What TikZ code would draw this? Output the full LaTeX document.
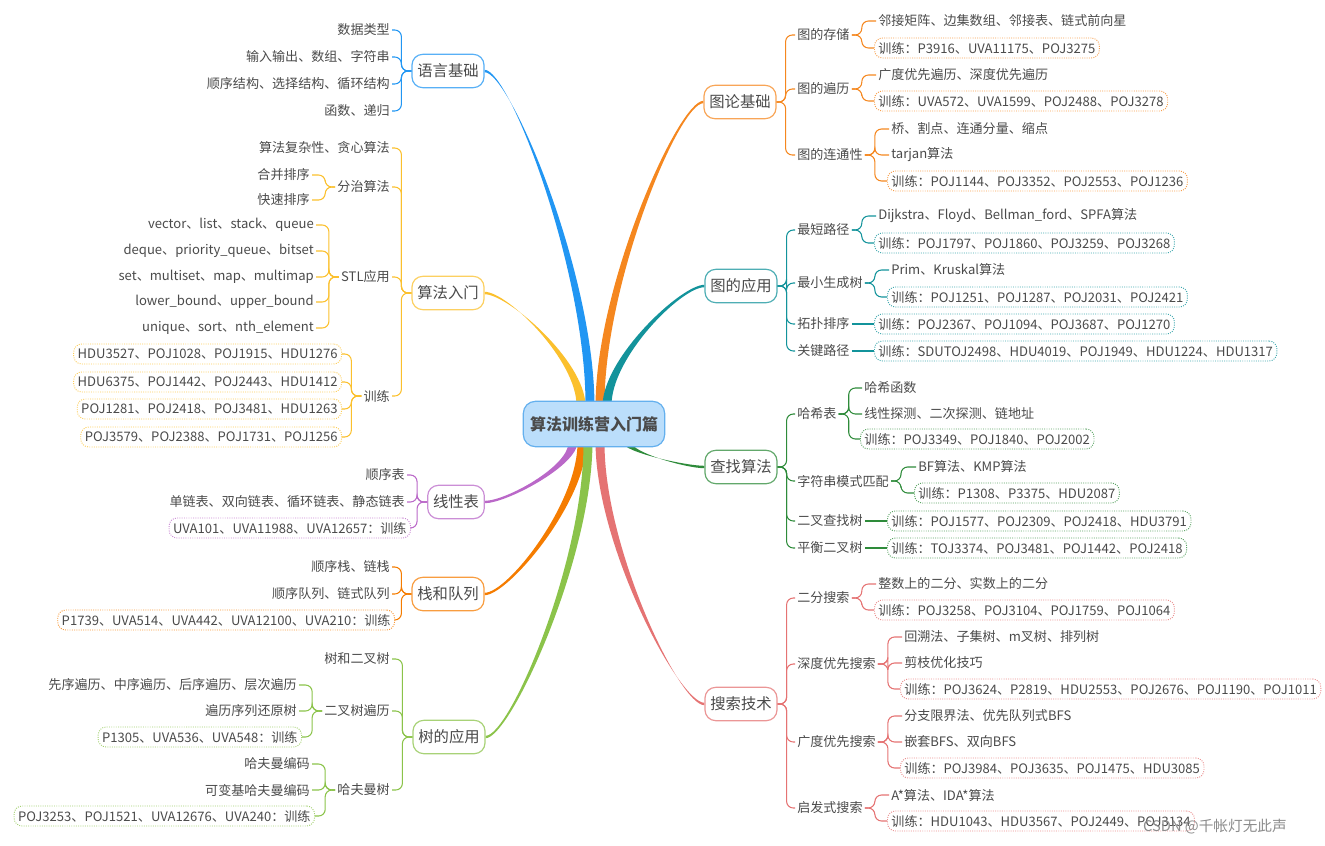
\documentclass[tikz,border=0pt]{standalone}
\usepackage{fontspec}
\setmainfont{Noto Sans CJK SC}
\usetikzlibrary{calc,backgrounds}
\definecolor{txt}{HTML}{4A4A4A}
\definecolor{cblue}{HTML}{2196F3}
\definecolor{cyel}{HTML}{FBC02D}
\definecolor{cpur}{HTML}{BA68C8}
\definecolor{corg}{HTML}{F57C00}
\definecolor{clgr}{HTML}{8BC34A}
\definecolor{cor2}{HTML}{F5871F}
\definecolor{cteal}{HTML}{13939B}
\definecolor{cdgr}{HTML}{2E8B3A}
\definecolor{cpink}{HTML}{E57373}
\definecolor{rootfill}{HTML}{BBDEFB}
\definecolor{rootline}{HTML}{64B0EE}
\newcommand\mbranch[3]{%
  \fill[#1] ($(#2)+(-4.5,0)$) .. controls ($(#2)!0.4!(#2|-#3)+(-4,0)$) and ($(#3)!0.24!(#3-|#2)+(0,-1.2)$) .. ($(#3)+(0,-1.2)$)
  -- ($(#3)+(0,1.2)$) .. controls ($(#3)!0.24!(#3-|#2)+(0,1.2)$) and ($(#2)!0.4!(#2|-#3)+(4,0)$) .. ($(#2)+(4.5,0)$) -- cycle;}
\begin{document}
\begin{tikzpicture}[x=0.75pt,y=-0.75pt,
  root/.style={draw=rootline,fill=rootfill,line width=0.9pt,rounded corners=9pt,minimum width=106pt,minimum height=34pt,text=txt,font=\fontsize{12}{14}\selectfont\bfseries},
  topic/.style={draw=#1!75,fill=white,line width=0.9pt,rounded corners=8pt,minimum height=25pt,inner xsep=4pt,text=txt,font=\fontsize{11.5}{14}\selectfont},
  leaf/.style={inner sep=1.5pt,text=txt,font=\fontsize{9.8}{12}\selectfont},
  lleaf/.style={leaf,anchor=east},
  rleaf/.style={leaf,anchor=west},
  train/.style={leaf,draw=#1!80,densely dotted,line width=0.7pt,rounded corners=6pt,inner xsep=3pt,minimum height=15pt},
  conn/.style={draw=#1,line width=0.8pt,rounded corners=5pt}]
\useasboundingbox (0,0) rectangle (1325,846);
\node[root] (root) at (594,424) {算法训练营入门篇};

\node[topic=cblue] (lang) at (448,71) {语言基础};
\node[lleaf] (lang1) at (392,30) {数据类型};
\node[lleaf] (lang2) at (392,57) {输入输出、数组、字符串};
\node[lleaf] (lang3) at (392,84) {顺序结构、选择结构、循环结构};
\node[lleaf] (lang4) at (392,111) {函数、递归};
\foreach \c in {lang1,lang2,lang3,lang4} \draw[conn=cblue] (lang.west) -- ++(-10,0) |- (\c.east);

\node[topic=cyel] (intro) at (448,293) {算法入门};
\node[lleaf] (intro1) at (392,148) {算法复杂性、贪心算法};
\node[lleaf] (intro2) at (392,187) {分治算法};
\node[lleaf] (intro21) at (312,175) {合并排序};
\node[lleaf] (intro22) at (312,200) {快速排序};
\node[lleaf] (intro3) at (392,277) {STL应用};
\node[lleaf] (intro31) at (316,225) {vector、list、stack、queue};
\node[lleaf] (intro32) at (316,251) {deque、priority\_queue、bitset};
\node[lleaf] (intro33) at (316,277) {set、multiset、map、multimap};
\node[lleaf] (intro34) at (316,302) {lower\_bound、upper\_bound};
\node[lleaf] (intro35) at (316,328) {unique、sort、nth\_element};
\node[lleaf] (intro4) at (392,396) {训练};
\node[train=cyel,anchor=east] (intro41) at (342,354) {HDU3527、POJ1028、POJ1915、HDU1276};
\node[train=cyel,anchor=east] (intro42) at (342,382) {HDU6375、POJ1442、POJ2443、HDU1412};
\node[train=cyel,anchor=east] (intro43) at (342,409) {POJ1281、POJ2418、POJ3481、HDU1263};
\node[train=cyel,anchor=east] (intro44) at (342,437) {POJ3579、POJ2388、POJ1731、POJ1256};
\foreach \c in {intro1,intro2,intro3,intro4} \draw[conn=cyel] (intro.west) -- ++(-10,0) |- (\c.east);
\foreach \c in {intro21,intro22} \draw[conn=cyel] (intro2.west) -- ++(-10,0) |- (\c.east);
\foreach \c in {intro31,intro32,intro33,intro34,intro35} \draw[conn=cyel] (intro3.west) -- ++(-10,0) |- (\c.east);
\foreach \c in {intro41,intro42,intro43,intro44} \draw[conn=cyel] (intro4.west) -- ++(-10,0) |- (\c.east);

\node[topic=cpur] (list) at (456,502) {线性表};
\node[lleaf] (list1) at (407,475) {顺序表};
\node[lleaf] (list2) at (407,502) {单链表、双向链表、循环链表、静态链表};
\node[train=cpur,anchor=east] (list3) at (411,528) {UVA101、UVA11988、UVA12657：训练};
\foreach \c in {list1,list2,list3} \draw[conn=cpur] (list.west) -- ++(-10,0) |- (\c.east);

\node[topic=corg] (stackq) at (448,594) {栈和队列};
\node[lleaf] (stackq1) at (392,567) {顺序栈、链栈};
\node[lleaf] (stackq2) at (392,594) {顺序队列、链式队列};
\node[train=corg,anchor=east] (stackq3) at (395,620) {P1739、UVA514、UVA442、UVA12100、UVA210：训练};
\foreach \c in {stackq1,stackq2,stackq3} \draw[conn=corg] (stackq.west) -- ++(-10,0) |- (\c.east);

\node[topic=clgr] (tree) at (449,737) {树的应用};
\node[lleaf] (tree1) at (392,659) {树和二叉树};
\node[lleaf] (tree2) at (392,711) {二叉树遍历};
\node[lleaf] (tree21) at (299,685) {先序遍历、中序遍历、后序遍历、层次遍历};
\node[lleaf] (tree22) at (299,711) {遍历序列还原树};
\node[train=clgr,anchor=east] (tree23) at (302,737) {P1305、UVA536、UVA548：训练};
\node[lleaf] (tree3) at (392,790) {哈夫曼树};
\node[lleaf] (tree31) at (312,764) {哈夫曼编码};
\node[lleaf] (tree32) at (312,790) {可变基哈夫曼编码};
\node[train=clgr,anchor=east] (tree33) at (315,816) {POJ3253、POJ1521、UVA12676、UVA240：训练};
\foreach \c in {tree1,tree2,tree3} \draw[conn=clgr] (tree.west) -- ++(-10,0) |- (\c.east);
\foreach \c in {tree21,tree22,tree23} \draw[conn=clgr] (tree2.west) -- ++(-10,0) |- (\c.east);
\foreach \c in {tree31,tree32,tree33} \draw[conn=clgr] (tree3.west) -- ++(-10,0) |- (\c.east);

\node[topic=cor2] (graph) at (740,102) {图论基础};
\node[rleaf] (graph1) at (795,35) {图的存储};
\node[rleaf] (graph11) at (876,21) {邻接矩阵、边集数组、邻接表、链式前向星};
\node[train=cor2,anchor=west] (graph12) at (874,48) {训练：P3916、UVA11175、POJ3275};
\node[rleaf] (graph2) at (795,89) {图的遍历};
\node[rleaf] (graph21) at (876,75) {广度优先遍历、深度优先遍历};
\node[train=cor2,anchor=west] (graph22) at (874,101) {训练：UVA572、UVA1599、POJ2488、POJ3278};
\node[rleaf] (graph3) at (795,155) {图的连通性};
\node[rleaf] (graph31) at (889,129) {桥、割点、连通分量、缩点};
\node[rleaf] (graph32) at (889,155) {tarjan算法};
\node[train=cor2,anchor=west] (graph33) at (887,181) {训练：POJ1144、POJ3352、POJ2553、POJ1236};
\foreach \c in {graph1,graph2,graph3} \draw[conn=cor2] (graph.east) -- ++(9,0) |- (\c.west);
\foreach \c in {graph11,graph12} \draw[conn=cor2] (graph1.east) -- ++(10,0) |- (\c.west);
\foreach \c in {graph21,graph22} \draw[conn=cor2] (graph2.east) -- ++(10,0) |- (\c.west);
\foreach \c in {graph31,graph32,graph33} \draw[conn=cor2] (graph3.east) -- ++(10,0) |- (\c.west);

\node[topic=cteal] (gapp) at (741,286) {图的应用};
\node[rleaf] (gapp1) at (795,230) {最短路径};
\node[rleaf] (gapp11) at (876,216) {Dijkstra、Floyd、Bellman\_ford、SPFA算法};
\node[train=cteal,anchor=west] (gapp12) at (874,243) {训练：POJ1797、POJ1860、POJ3259、POJ3268};
\node[rleaf] (gapp2) at (795,283) {最小生成树};
\node[rleaf] (gapp21) at (889,270) {Prim、Kruskal算法};
\node[train=cteal,anchor=west] (gapp22) at (887,297) {训练：POJ1251、POJ1287、POJ2031、POJ2421};
\node[rleaf] (gapp3) at (795,324) {拓扑排序};
\node[train=cteal,anchor=west] (gapp31) at (874,324) {训练：POJ2367、POJ1094、POJ3687、POJ1270};
\node[rleaf] (gapp4) at (795,351) {关键路径};
\node[train=cteal,anchor=west] (gapp41) at (874,351) {训练：SDUTOJ2498、HDU4019、POJ1949、HDU1224、HDU1317};
\foreach \c in {gapp1,gapp2,gapp3,gapp4} \draw[conn=cteal] (gapp.east) -- ++(9,0) |- (\c.west);
\foreach \c in {gapp11,gapp12} \draw[conn=cteal] (gapp1.east) -- ++(10,0) |- (\c.west);
\foreach \c in {gapp21,gapp22} \draw[conn=cteal] (gapp2.east) -- ++(10,0) |- (\c.west);
\draw[conn=cteal] (gapp3.east) -- (gapp31.west);
\draw[conn=cteal] (gapp4.east) -- (gapp41.west);

\node[topic=cdgr] (find) at (741,467) {查找算法};
\node[rleaf] (find1) at (795,414) {哈希表};
\node[rleaf] (find11) at (862,388) {哈希函数};
\node[rleaf] (find12) at (862,414) {线性探测、二次探测、链地址};
\node[train=cdgr,anchor=west] (find13) at (860,439) {训练：POJ3349、POJ1840、POJ2002};
\node[rleaf] (find2) at (795,481) {字符串模式匹配};
\node[rleaf] (find21) at (916,467) {BF算法、KMP算法};
\node[train=cdgr,anchor=west] (find22) at (914,493) {训练：P1308、P3375、HDU2087};
\node[rleaf] (find3) at (795,521) {二叉查找树};
\node[train=cdgr,anchor=west] (find31) at (887,521) {训练：POJ1577、POJ2309、POJ2418、HDU3791};
\node[rleaf] (find4) at (795,548) {平衡二叉树};
\node[train=cdgr,anchor=west] (find41) at (887,548) {训练：TOJ3374、POJ3481、POJ1442、POJ2418};
\foreach \c in {find1,find2,find3,find4} \draw[conn=cdgr] (find.east) -- ++(9,0) |- (\c.west);
\foreach \c in {find11,find12,find13} \draw[conn=cdgr] (find1.east) -- ++(10,0) |- (\c.west);
\foreach \c in {find21,find22} \draw[conn=cdgr] (find2.east) -- ++(10,0) |- (\c.west);
\draw[conn=cdgr] (find3.east) -- (find31.west);
\draw[conn=cdgr] (find4.east) -- (find41.west);

\node[topic=cpink] (srch) at (741,704) {搜索技术};
\node[rleaf] (srch1) at (795,598) {二分搜索};
\node[rleaf] (srch11) at (876,584) {整数上的二分、实数上的二分};
\node[train=cpink,anchor=west] (srch12) at (874,610) {训练：POJ3258、POJ3104、POJ1759、POJ1064};
\node[rleaf] (srch2) at (795,664) {深度优先搜索};
\node[rleaf] (srch21) at (902,637) {回溯法、子集树、m叉树、排列树};
\node[rleaf] (srch22) at (902,663) {剪枝优化技巧};
\node[train=cpink,anchor=west] (srch23) at (900,689) {训练：POJ3624、P2819、HDU2553、POJ2676、POJ1190、POJ1011};
\node[rleaf] (srch3) at (795,742) {广度优先搜索};
\node[rleaf] (srch31) at (902,716) {分支限界法、优先队列式BFS};
\node[rleaf] (srch32) at (902,742) {嵌套BFS、双向BFS};
\node[train=cpink,anchor=west] (srch33) at (900,768) {训练：POJ3984、POJ3635、POJ1475、HDU3085};
\node[rleaf] (srch4) at (795,808) {启发式搜索};
\node[rleaf] (srch41) at (889,795) {A*算法、IDA*算法};
\node[train=cpink,anchor=west] (srch42) at (887,821) {训练：HDU1043、HDU3567、POJ2449、POJ3134};
\foreach \c in {srch1,srch2,srch3,srch4} \draw[conn=cpink] (srch.east) -- ++(9,0) |- (\c.west);
\foreach \c in {srch11,srch12} \draw[conn=cpink] (srch1.east) -- ++(10,0) |- (\c.west);
\foreach \c in {srch21,srch22,srch23} \draw[conn=cpink] (srch2.east) -- ++(10,0) |- (\c.west);
\foreach \c in {srch31,srch32,srch33} \draw[conn=cpink] (srch3.east) -- ++(10,0) |- (\c.west);
\foreach \c in {srch41,srch42} \draw[conn=cpink] (srch4.east) -- ++(10,0) |- (\c.west);

\node[text=black!45,font=\fontsize{11}{13}\selectfont] (mark) at (1215,827) {CSDN @千帐灯无此声};

\begin{pgfonlayer}{background}
\coordinate (s1) at ($(root.north)+(-4,5)$);
\coordinate (s2) at ($(root.north)+(-13,5)$);
\coordinate (s3) at ($(root.north)+(6,5)$);
\coordinate (s4) at ($(root.north)+(13,5)$);
\coordinate (s5) at ($(root.south)+(-21,-5)$);
\coordinate (s6) at ($(root.south)+(-12,-5)$);
\coordinate (s7) at ($(root.south)+(-6,-5)$);
\coordinate (s8) at ($(root.south)+(6,-5)$);
\coordinate (s9) at ($(root.south)+(33,-5)$);
\mbranch{cblue}{s1}{lang.east}
\mbranch{cyel}{s2}{intro.east}
\mbranch{cor2}{s3}{graph.west}
\mbranch{cteal}{s4}{gapp.west}
\mbranch{cpur}{s5}{list.east}
\mbranch{corg}{s6}{stackq.east}
\mbranch{clgr}{s7}{tree.east}
\mbranch{cpink}{s8}{srch.west}
\mbranch{cdgr}{s9}{find.west}
\end{pgfonlayer}
\end{tikzpicture}
\end{document}
